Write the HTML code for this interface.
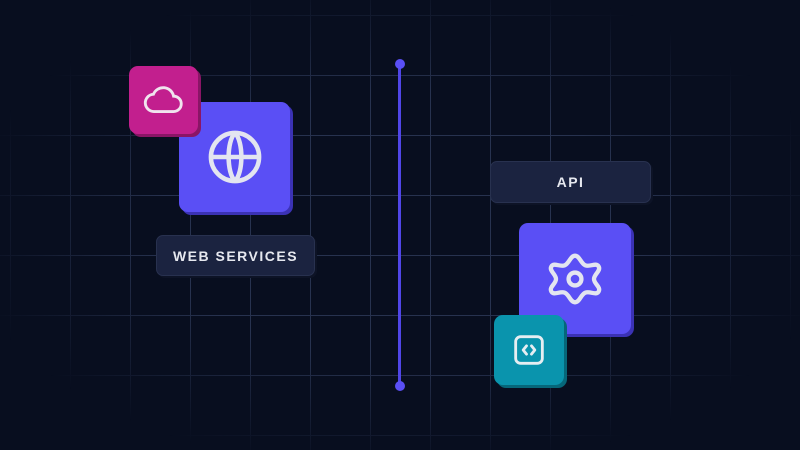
<!DOCTYPE html>
<html><head><style>
html,body{margin:0;padding:0;background:#080e1f;}
#c{position:relative;width:800px;height:450px;overflow:hidden;background:#080e1f;font-family:"Liberation Sans",sans-serif;}
.grid{position:absolute;inset:0;
background-image:linear-gradient(to right,#27324f 1px,transparent 1px),linear-gradient(to bottom,#27324f 1px,transparent 1px);
background-size:60px 60px;background-position:10px 15px;
-webkit-mask-image:radial-gradient(ellipse 55% 55% at 50% 50%,#000 55%,transparent 100%);
mask-image:radial-gradient(ellipse 55% 55% at 50% 50%,#000 55%,transparent 100%);}
.b{position:absolute;border-radius:9px;display:flex;align-items:center;justify-content:center;}
.lab{position:absolute;border-radius:7px;background:#1b2340;border:1px solid #28314f;box-shadow:2px 2px 0 #0d1326;color:#e6e8ef;font-size:14px;font-weight:bold;letter-spacing:1.5px;display:flex;align-items:center;justify-content:center;}
</style></head><body><div id="c">
<div class="grid"></div>
<div class="b" style="left:179px;top:102px;width:111px;height:110px;background:#5a4ff5;box-shadow:3px 3px 0 #3b32b5;">
<svg width="68" height="68" viewBox="0 0 24 24" fill="none" stroke="#e3e5f0" stroke-width="1.6"><circle cx="12" cy="12" r="8.5"/><path d="M3.5 12h17M12 3.5c-3 3-3 14 0 17M12 3.5c3 3 3 14 0 17"/></svg></div>
<div class="b" style="left:129px;top:66px;width:69px;height:68px;background:#c21f8e;box-shadow:3px 3px 0 #8a1566;">
<svg width="46" height="46" viewBox="0 0 24 24" fill="none" stroke="#f0e4ee" stroke-width="1.5"><path d="M7 18h10a4 4 0 0 0 0-8 5.5 5.5 0 0 0-10.5-1A4.5 4.5 0 0 0 7 18z"/></svg></div>
<div class="lab" style="left:156px;top:235px;width:157px;height:39px;">WEB SERVICES</div>
<div class="lab" style="left:490px;top:161px;width:159px;height:40px;">API</div>
<div style="position:absolute;left:398px;top:64px;width:3px;height:322px;background:#5046e8;"></div>
<div style="position:absolute;left:395px;top:59px;width:10px;height:10px;border-radius:50%;background:#5a4ff5;"></div>
<div style="position:absolute;left:395px;top:381px;width:10px;height:10px;border-radius:50%;background:#5a4ff5;"></div>
<div class="b" style="left:519px;top:223px;width:112px;height:111px;background:#5a4ff5;box-shadow:3px 3px 0 #3b32b5;">
<svg width="86" height="86" viewBox="0 0 24 24" fill="none" stroke="#e3e5f0" stroke-width="1.2" stroke-linejoin="round"><path d="M12 3.5c1.3 0 1.6 2.2 2.9 2.7 1.3.5 3-.9 3.7.3.7 1.2-1.3 2.2-1.3 3.5 0 1.4 2 2.2 1.3 3.5-.7 1.2-2.4-.2-3.7.3-1.3.5-1.6 2.7-2.9 2.7s-1.6-2.2-2.9-2.7c-1.3-.5-3 .9-3.7-.3-.7-1.3 1.3-2.1 1.3-3.5 0-1.3-2-2.3-1.3-3.5.7-1.2 2.4.2 3.7-.3C10.4 5.7 10.7 3.5 12 3.5z" transform="translate(0,2)"/><circle cx="12" cy="12" r="1.8"/></svg></div>
<div class="b" style="left:494px;top:315px;width:70px;height:70px;background:#0a94ad;box-shadow:3px 3px 0 #06677a;">
<svg width="40" height="40" viewBox="0 0 24 24" fill="none" stroke="#e6eef2" stroke-width="1.7" stroke-linecap="round" stroke-linejoin="round"><rect x="4" y="4" width="16" height="16" rx="3"/><path d="M10.5 9.5l-2 2.5 2 2.5M13.5 9.5l2 2.5-2 2.5"/></svg></div>
</div></body></html>
